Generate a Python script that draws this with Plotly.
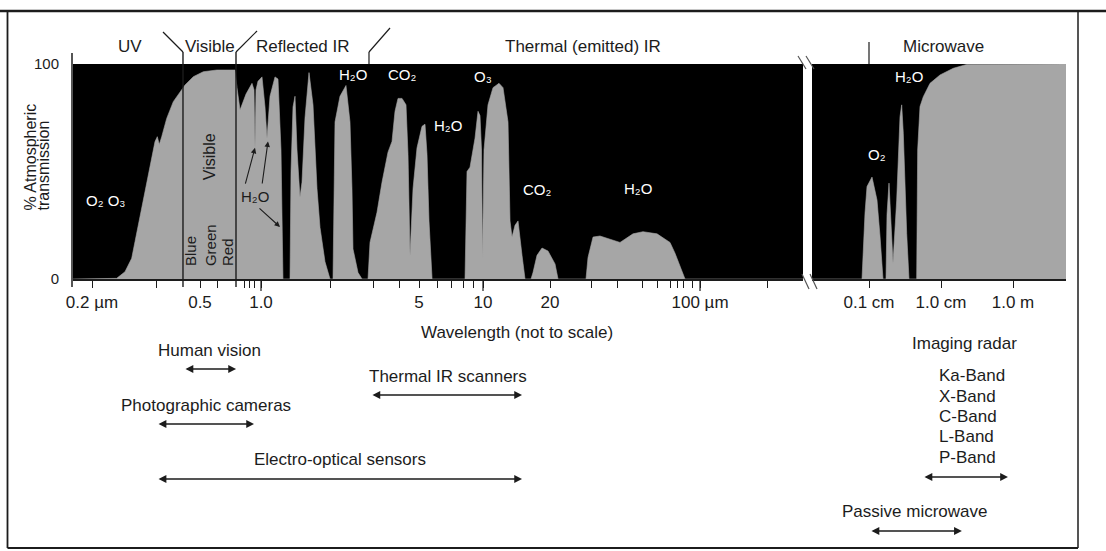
import numpy as np
import plotly.graph_objects as go

FONT = "Liberation Sans, Arial, Helvetica, DejaVu Sans, sans-serif"
INK = "#1c1c1c"
GRAY = "#a6a6a6"

# ---------------- data (left panel: wavelength in micrometres, as placed on the not-to-scale axis) -------------
uv_vis_wl = [0.1466, 0.2301, 0.2507, 0.2686, 0.2780, 0.2876, 0.2979, 0.3082, 0.3245, 0.3417, 0.3499,
             0.3572, 0.3662, 0.3856, 0.4128, 0.4423, 0.4658, 0.5075, 0.5626, 0.6462, 0.7804]
uv_vis_tr = [0, 0.3, 3.4, 9.6, 17.4, 25.1, 34.4, 42.2, 53, 63.9, 66.2,
             62.6, 66.2, 74.7, 82.5, 87.1, 90.2, 94.1, 96.4, 97.2, 97.2]

refl_ir_wl = [0.7967, 0.8221, 0.8744, 0.9303, 0.9497, 0.9595, 0.9695, 0.9897, 1.0315, 1.0639, 1.0861,
              1.1203, 1.1796, 1.2167, 1.2551, 1.2808, 1.3772, 1.3915, 1.4206, 1.4503, 1.4806, 1.5268,
              1.5587, 1.6079, 1.6758, 1.7466, 1.8202, 1.8776, 1.9770, 2.0393, 2.0818, 2.1470, 2.1693,
              2.1918, 2.3078, 2.4553, 2.5588, 2.6122, 2.6393, 2.7795, 2.8967]
refl_ir_tr = [89, 78.6, 86, 91, 88, 61, 88, 92, 94, 80, 65.5,
              85, 94, 93, 60, 0, 0, 50, 80, 85, 60, 38,
              45, 75, 96, 81, 42, 24, 8, 3, 0, 0, 40,
              73, 85, 90, 73, 42, 14, 3, 0]

therm_ir_wl = [3.0818, 3.1462, 3.3817, 3.5608, 3.7889, 3.9486, 4.0730, 4.2012, 4.3786, 4.5630, 4.6584,
               4.7556, 4.9053, 5.1118, 5.3823, 5.5517, 5.6675, 5.7858, 5.9723, 8.3898, 8.4768, 8.5650,
               8.8352, 9.0195, 9.3027, 9.5955, 9.7955, 9.9485, 10.052, 10.209, 10.315, 10.639, 11.203,
               11.920, 12.423, 13.083, 13.356, 13.634, 14.063, 14.505, 15.116, 15.592, 16.586, 16.932,
               17.646, 18.581, 19.767, 21.258, 21.927, 29.268, 29.878, 31.464, 33.817, 38.682, 41.577,
               47.547, 52.720, 60.938, 69.665, 73.357, 77.246, 81.338, 275.1]
therm_ir_tr = [0, 17, 31, 45, 59, 64, 78, 84, 84, 81, 58,
               11, 42, 61, 71, 72, 58, 27, 0, 0, 30, 50,
               52, 58, 65.5, 78, 76, 60, 10, 60, 65, 81, 89,
               91, 89, 73, 27, 19.5, 25, 27, 11, 0, 0, 3,
               11, 14.4, 13, 7, 0, 0, 10, 19.5, 20, 18, 17,
               21, 22, 21, 17, 12, 6, 0, 0]

# right panel: microwave, position along its schematic axis (1 = 0.1 cm, 2 = 1.0 cm, 3 = 1.0 m)
mw_pos = [0.2083, 0.9028, 0.9444, 0.9722, 1.0417, 1.1111, 1.1528, 1.1806, 1.1944, 1.2361, 1.25,
          1.2778, 1.3056, 1.3333, 1.3847, 1.4306, 1.4542, 1.4764, 1.5236, 1.5556, 1.6620, 1.6760,
          1.7083, 1.7542, 1.8472, 1.9861, 2.1708, 2.3569, 3.7361]
mw_tr = [0, 0, 30.7, 43, 47.4, 36.7, 20, 5, 0, 0, 30,
         44.6, 25, 7.4, 36.7, 75.5, 81, 67.8, 21.2, 0, 0, 60,
         80.2, 84.8, 91, 94.9, 98, 99.8, 100]

# axis ticks (positions of the printed labels on the not-to-scale axis)
tick_pos_um = [0.1783, 0.5438, 1.0209, 5.2183, 10.104, 20.18, 94.97]
tick_text_um = ["0.2 \u00b5m", "0.5", "1.0", "5", "10", "20", "100 \u00b5m"]
long_tick_um = [1.0209, 10.104, 94.97]
minor_tick_um = [0.3488, 0.6548, 0.8565, 0.9019, 0.9497, 2.0818, 3.2448, 4.2448, 6.2838, 7.2613,
                 8.2207, 9.1144, 30.82, 40.31, 52.18, 60.94, 69.67, 74.90, 79.68, 87.44, 189.7]
mw_tick_pos = [1, 2, 3]
mw_tick_text = ["0.1 cm", "1.0 cm", "1.0 m"]

# spectral region boundaries and labels
region_bounds_um = [0.4562, 0.7886, 3.1132]
region_labels = ["UV", "Visible", "Reflected IR", "Thermal (emitted) IR"]
region_label_um = [0.264, 0.603, 1.567, 28.4]
mw_region_label_pos = 2.04
mw_bound_pos = 1.0

# absorber labels
gas_labels = ["O\u2082 O\u2083", "H\u2082O", "CO\u2082", "H\u2082O", "O\u2083", "CO\u2082", "H\u2082O"]
gas_um = [0.204, 2.639, 4.379, 7.04, 10.10, 17.65, 50.1]
gas_tr = [36.3, 94.9, 94.9, 71.2, 94.4, 41.4, 42.3]
mw_gas_labels = ["O\u2082", "H\u2082O"]
mw_gas_pos = [1.111, 1.556]
mw_gas_tr = [58, 94]

colour_labels = ["Blue", "Green", "Red"]
colour_um = [0.4904, 0.6031, 0.7186]

# H2O pointer arrows in the reflected IR (tail wavelength, tail %, head wavelength, head %)
h2o_arrows = [(0.8654, 43.7, 0.9595, 61.0), (1.0315, 43.7, 1.0973, 64.0), (0.9897, 33.5, 1.2421, 24.2)]

# sensor ranges
sensors = ["Human vision", "Photographic cameras", "Thermal IR scanners", "Electro-optical sensors"]
sensor_start_um = [0.461, 0.349, 3.178, 0.349]
sensor_end_um = [0.789, 0.950, 15.12, 15.12]
sensor_label_um = [0.597, 0.579, 7.04, 2.308]
radar_bands = ["Ka-Band", "X-Band", "C-Band", "L-Band", "P-Band"]
radar_range = [1.75, 2.93]
passive_range = [1.014, 2.29]

# ---------------- figure ----------------
wl = uv_vis_wl + refl_ir_wl + therm_ir_wl
tr = uv_vis_tr + refl_ir_tr + therm_ir_tr

fig = go.Figure()
fig.add_trace(go.Scatter(x=wl, y=tr, mode="lines", fill="tozeroy", fillcolor=GRAY,
                         line=dict(color=GRAY, width=0.6), xaxis="x", yaxis="y", hoverinfo="skip"))
fig.add_trace(go.Scatter(x=mw_pos, y=mw_tr, mode="lines", fill="tozeroy", fillcolor=GRAY,
                         line=dict(color=GRAY, width=0.6), xaxis="x2", yaxis="y", hoverinfo="skip"))

# pixel <-> paper helpers for decoration (plot area: x 73..1066, y 64..279)
def px(xp):
    return (xp - 73) / 993.0

def py(yp):
    return (279 - yp) / 215.0

shapes = []
def line(x0, y0, x1, y1, xref="paper", yref="paper", w=1.3, color=INK):
    shapes.append(dict(type="line", x0=x0, y0=y0, x1=x1, y1=y1, xref=xref, yref=yref,
                       line=dict(color=color, width=w), layer="above"))

# region boundary lines
line(region_bounds_um[0], py(287), region_bounds_um[0], py(52), xref="x", w=1.4)
line(region_bounds_um[1], py(287), region_bounds_um[1], py(52), xref="x", w=1.4)
line(0.3711, py(32), region_bounds_um[0], py(52), xref="x", w=1.2)
line(region_bounds_um[1], py(52), 0.9796, py(31), xref="x", w=1.2)
line(region_bounds_um[2], py(64), region_bounds_um[2], py(52), xref="x", w=1.2)
line(region_bounds_um[2], py(52), 3.8682, py(28), xref="x", w=1.2)
line(mw_bound_pos, py(64), mw_bound_pos, py(42), xref="x2", w=1.2)
# long ticks
for v in long_tick_um:
    line(v, 0, v, py(291), xref="x", w=1.2)
# y axis line
line(px(72), py(287), px(72), py(53), w=1.5)
# axis break marks
for dx in (0, 8):
    line(px(798 + dx), py(56), px(806 + dx), py(69), w=1.2, color="#555")
    line(px(802 + dx), py(274), px(809 + dx), py(289), w=1.2, color="#555")
# frame
line(px(0), py(11), px(1106), py(11), w=2.5)
line(px(7.5), py(11), px(7.5), py(548), w=1.8)
line(px(1078), py(11), px(1078), py(548), w=1.5)
line(px(7.5), py(548), px(1078), py(548), w=2.0)

ann = []
def txt(x, y, s, xref="x", yref="y", size=17, color=INK, xanchor="center", yanchor="middle", **kw):
    ann.append(dict(x=x, y=y, xref=xref, yref=yref, text=s, showarrow=False,
                    xanchor=xanchor, yanchor=yanchor,
                    font=dict(family=FONT, size=size, color=color), **kw))

def arrow(x0, y0, x1, y1, xref="x", yref="paper", both=True, size=1.2, width=1.3):
    d = dict(x=x1, y=y1, xref=xref, yref=yref, ax=x0, axref=xref, text="", showarrow=True,
             arrowhead=2, arrowsize=size, arrowwidth=width, arrowcolor=INK, standoff=0, startstandoff=0)
    if yref == "paper":
        d.update(ay=0, ayref="pixel")
    else:
        d.update(ay=y0, ayref=yref)
    if both:
        d["arrowside"] = "end+start"
    ann.append(d)

L = np.log10

# region labels
for s, v in zip(region_labels, region_label_um):
    txt(L(v), py(46), s, yref="paper")
txt(mw_region_label_pos, py(46), "Microwave", xref="x2", yref="paper")

# gas labels
for s, v, t in zip(gas_labels, gas_um, gas_tr):
    txt(L(v), t, s, size=15, color="white")
for s, v, t in zip(mw_gas_labels, mw_gas_pos, mw_gas_tr):
    txt(v, t, s, xref="x2", size=15, color="white")

# visible-band labels
txt(L(0.597), 56.7, "Visible", size=16, textangle=-90)
for s, v in zip(colour_labels, colour_um):
    txt(L(v), 5.1, s, size=15, textangle=-90, yanchor="bottom")

# H2O with arrows in reflected IR
txt(L(0.9596), 38.6, "H\u2082O", size=15)
for t0, v0, t1, v1 in h2o_arrows:
    arrow(L(t0), v0, L(t1), v1, yref="y", both=False, size=1.0, width=1.1)

# y-axis title
txt(px(30), py(213), "% Atmospheric", xref="paper", yref="paper", size=16, textangle=-90, yanchor="bottom")
txt(px(42.5), py(213), "transmission", xref="paper", yref="paper", size=16, textangle=-90, yanchor="bottom")

# x-axis title
txt(px(517), py(332), "Wavelength (not to scale)", xref="paper", yref="paper")

# sensors
sensor_text_y = [350, 405, 376, 459]
sensor_arrow_y = [369, 424, 395, 479]
for s, a, b, c, ty, ay in zip(sensors, sensor_start_um, sensor_end_um, sensor_label_um,
                              sensor_text_y, sensor_arrow_y):
    txt(L(c), py(ty), s, yref="paper")
    arrow(L(a), None, L(b), py(ay))

txt(2.333, py(343), "Imaging radar", xref="x2", yref="paper")
for s, ty in zip(radar_bands, [375, 396, 416, 436, 457]):
    txt(1.944, py(ty), s, xref="x2", yref="paper", xanchor="left")
arrow(radar_range[0], None, radar_range[1], py(477), xref="x2")
txt(1.639, py(511), "Passive microwave", xref="x2", yref="paper")
arrow(passive_range[0], None, passive_range[1], py(531), xref="x2")

axis_common = dict(tickmode="array", ticks="outside", ticklen=7, tickwidth=1.2, tickcolor=INK,
                   showline=True, linecolor=INK, linewidth=1.5, showgrid=False, zeroline=False,
                   tickfont=dict(family=FONT, size=17, color=INK), anchor="y", fixedrange=True)

fig.update_layout(
    width=1106, height=551,
    margin=dict(l=73, r=40, t=64, b=272, pad=0),
    paper_bgcolor="white", plot_bgcolor="black",
    showlegend=False,
    font=dict(family=FONT, size=17, color=INK),
    xaxis=dict(type="log", domain=[0, 0.73515], range=[-0.83408, 2.43946],
               tickvals=tick_pos_um, ticktext=tick_text_um,
               minor=dict(tickmode="array", tickvals=minor_tick_um, ticks="outside", ticklen=7,
                          tickwidth=1.2, tickcolor=INK, showgrid=False),
               **axis_common),
    xaxis2=dict(domain=[0.74421, 1], range=[0.20833, 3.73611],
                tickvals=mw_tick_pos, ticktext=mw_tick_text, **axis_common),
    yaxis=dict(range=[0, 100], tickmode="array", tickvals=[0, 100], ticktext=["0", "100"],
               showgrid=False, zeroline=False, showline=False, ticks="outside", ticklen=10,
               tickcolor="rgba(0,0,0,0)", tickfont=dict(family=FONT, size=15, color=INK),
               fixedrange=True),
    shapes=shapes,
    annotations=ann,
)

fig.write_html("out.html")
